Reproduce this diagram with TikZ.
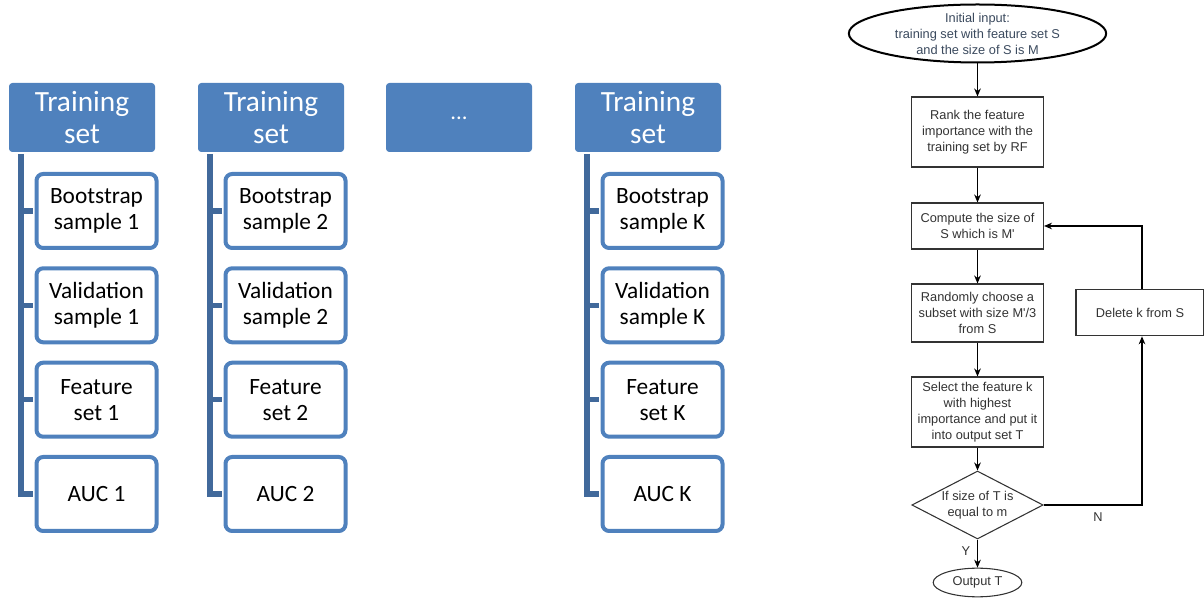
\documentclass[tikz,border=0pt]{standalone}
\usepackage{fontspec}
\usetikzlibrary{shapes.geometric,arrows.meta}
\newfontfamily\calfont{Carlito}
\newfontfamily\arialfont{Liberation Sans}
\definecolor{hdrblue}{HTML}{4F81BD}
\definecolor{trunkblue}{HTML}{41699B}
\definecolor{boxtext}{HTML}{333333}
\definecolor{inittext}{HTML}{3B4A5E}
\tikzset{
  header/.style={draw=none, fill=hdrblue, rounded corners=2.5pt, text=white,
    minimum width=109.5pt, minimum height=51.75pt, inner sep=0pt,
    align=center, font=\calfont\fontsize{22}{23.5}\selectfont},
  child/.style={draw=hdrblue, line width=3pt, fill=white, rounded corners=5pt,
    minimum width=90pt, minimum height=55.5pt, inner sep=0pt,
    align=center, font=\calfont\fontsize{17.5}{19.5}\selectfont},
  trunk/.style={draw=trunkblue, line width=4pt},
  branch/.style={draw=trunkblue, line width=4pt},
  flowbox/.style={draw=boxtext, line width=0.8pt, fill=white, inner sep=0pt,
    minimum width=99pt, align=center, text=boxtext,
    font=\arialfont\fontsize{9.6}{12}\selectfont},
  flowtext/.style={align=center, text=boxtext, inner sep=0pt,
    font=\arialfont\fontsize{9.6}{12}\selectfont},
  flowarrow/.style={draw=black, line width=0.8pt, -{Stealth[length=6pt,width=5pt]}},
}
\begin{document}
\begin{tikzpicture}[x=0.75pt, y=-0.75pt]
\useasboundingbox (0,0) rectangle (1204,598);

% training-set columns with their samples
\foreach \L/\n in {9/1, 198/2, 575/K} {
  \node[header] (hdr\n) at (\L+73, 117.5) {Training\\set};
  \node[child] (boot\n) at (\L+87.5, 211) {Bootstrap\\sample \n};
  \node[child] (val\n)  at (\L+87.5, 305.3) {Validation\\sample \n};
  \node[child] (feat\n) at (\L+87.5, 399.7) {Feature\\set \n};
  \node[child] (auc\n)  at (\L+87.5, 494) {AUC \n};
  \coordinate (top\n) at (\L+12, 154);
  \coordinate (bot\n) at (\L+12, 494);
  \draw[trunk] (top\n) -- (bot\n -| top\n) -- ([xshift=-1.5pt]auc\n.west);
  \draw[branch] (boot\n.west -| top\n) -- ([xshift=-1.5pt]boot\n.west);
  \draw[branch] (val\n.west -| top\n) -- ([xshift=-1.5pt]val\n.west);
  \draw[branch] (feat\n.west -| top\n) -- ([xshift=-1.5pt]feat\n.west);
}
\node[header, font=\calfont\fontsize{17}{19}\selectfont] (hdrdots) at (386+73, 117.5) {\raisebox{-3pt}{...}};

% feature selection flowchart
\node[ellipse, draw=black, line width=1.5pt, fill=white, inner sep=0pt,
  minimum width=193pt, minimum height=43.5pt] (init) at (977.5, 33.5) {};
\node[flowtext, text=inittext] (inittxt) at (init) {Initial input:\\training set with feature set S\\and the size of S is M};
\node[flowbox, minimum height=52.5pt] (rank) at (977.5, 132) {Rank the feature\\importance with the\\training set by RF};
\node[flowbox, minimum height=34.5pt] (comp) at (977.5, 226) {Compute the size of\\S which is M'};
\node[flowbox, minimum height=43.5pt] (rand) at (977.5, 313) {Randomly choose a\\subset with size M'/3\\from S};
\node[flowbox, minimum height=52.5pt] (sel) at (977.5, 412) {Select the feature k\\with highest\\importance and put it\\into output set T};
\node[diamond, draw=boxtext, line width=0.8pt, fill=white, inner sep=0pt,
  minimum width=98.5pt, minimum height=51pt, aspect=1.93,
  align=center, text=boxtext, font=\arialfont\fontsize{9.6}{12}\selectfont]
  (cond) at (977.5, 505) {If size of T is\\equal to m};
\node[ellipse, draw=boxtext, line width=0.8pt, fill=white, inner sep=0pt,
  minimum width=66.5pt, minimum height=21.5pt, text=boxtext,
  font=\arialfont\fontsize{9.6}{12}\selectfont] (out) at (977.5, 582.5) {Output T};
\node[flowbox, minimum width=96pt, minimum height=35pt] (del) at (1140, 312.5) {Delete k from S};

\draw[flowarrow] (init) -- (rank);
\draw[flowarrow] (rank) -- (comp);
\draw[flowarrow] (comp) -- (rand);
\draw[flowarrow] (rand) -- (sel);
\draw[flowarrow] (sel) -- (cond);
\draw[flowarrow] (cond) -- (out);
\coordinate (ncorner) at (1142, 505);
\draw[flowarrow] (cond.east) -- (ncorner) -- (ncorner |- del.south);
\coordinate (ucorner) at (1142, 226);
\draw[flowarrow] (ncorner |- del.north) -- (ucorner) -- (comp.east);
\node[flowtext] (ylab) at (966, 551) {Y};
\node[flowtext] (nlab) at (1098, 517.5) {N};
\end{tikzpicture}
\end{document}
